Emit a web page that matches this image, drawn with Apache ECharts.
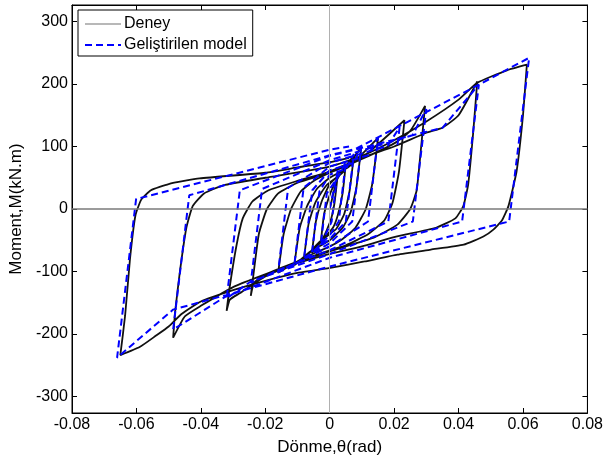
<!DOCTYPE html>
<html><head><meta charset="utf-8">
<script src="https://cdn.jsdelivr.net/npm/echarts@6/dist/echarts.min.js"></script>
<style>html,body{margin:0;padding:0;background:#fff}#c{width:606px;height:461px}</style>
</head><body><div id="c"></div>
<script>
// ---- axis ticks ----
const xTicks = [-0.08, -0.06, -0.04, -0.02, 0, 0.02, 0.04, 0.06, 0.08];
const yTicks = [-300, -200, -100, 0, 100, 200, 300];
const legendNames = ['Deney', 'Geliştirilen model'];

// ---- Geliştirilen model (blue dashed), [theta(rad), M(kN.m)] per cycle ----
const modelA = [[0,0],[0.0025,62],[0.0006,-20],[-0.0028,-58],[-0.0009,25]];
const modelB = [[0.003,55],[0.005,75],[0.0028,-20],[0,-42],[-0.0055,-70],[-0.0032,28]];
const modelC = [[0,55],[0.005,64],[0.0075,88],[0.005,-20],[0,-48],[-0.008,-80],[-0.0054,30]];
const modelD = [[0,62],[0.0075,74],[0.0098,99],[0.007,-20],[0,-55],[-0.008,-78],[-0.011,-90],[-0.0081,34]];
const modelE = [[0,68],[0.012,86],[0.015,114],[0.0119,-20],[0,-60],[-0.011,-88],[-0.016,-100],[-0.0129,34]];
const modelF = [[0,74],[0.018,101],[0.0217,131],[0.0182,-20],[0,-66],[-0.016,-98],[-0.0245,-118],[-0.021,32]];
const modelG = [[0,78],[0.0257,118],[0.030,160],[0.0258,-20],[0,-72],[-0.0245,-116],[-0.032,-143],[-0.0279,30]];
const modelH = [[0,85],[0.035,130],[0.0463,199],[0.0411,-20],[0,-78],[-0.0326,-141],[-0.0486,-193],[-0.0436,22]];
const modelI = [[0,86],[0.008,96],[0.0463,199],[0.0619,242],[0.0557,-20],[0,-92],[-0.0486,-161],[-0.066,-238],[-0.0601,16],[0,95],[0.006,100]];

// ---- Deney (experiment, black) ----
const expA = [[0,0],[0.0025,55],[0.0015,10],[0.0005,-15],[-0.001,-35],[-0.0028,-55],[-0.0018,-10],[-0.0005,15],[0.001,35]];
const expB = [[0.005,72],[0.004,25],[0.0025,-10],[0.001,-30],[-0.002,-48],[-0.0055,-70],[-0.0043,-20],[-0.0025,12],[0,40],[0.003,55]];
const expC = [[0.0075,86],[0.0062,30],[0.0045,-8],[0.002,-32],[-0.003,-52],[-0.008,-80],[-0.0066,-25],[-0.0045,10],[-0.001,38],[0.004,58]];
const expD = [[0.0098,99],[0.0083,35],[0.0065,-5],[0.004,-30],[0,-50],[-0.006,-68],[-0.011,-90],[-0.0093,-30],[-0.007,5],[-0.004,32],[0,50],[0.006,68]];
const expE = [[0.015,114],[0.0132,40],[0.0112,0],[0.008,-30],[0.004,-48],[0,-60],[-0.008,-78],[-0.016,-102],[-0.0143,-40],[-0.012,0],[-0.009,28],[-0.005,45],[0,58],[0.01,82]];
const expF = [[0.0232,142],[0.0215,60],[0.0195,10],[0.017,-18],[0.012,-40],[0.005,-58],[0,-66],[-0.01,-84],[-0.02,-105],[-0.0235,-118],[-0.0245,-139],[-0.0238,-110],[-0.022,-40],[-0.0195,0],[-0.016,25],[-0.01,42],[0,58],[0.01,80],[0.02,105]];
const expG = [[0.025,125],[0.0296,165],[0.0282,90],[0.027,30],[0.025,0],[0.021,-25],[0.014,-45],[0.005,-60],[0,-68],[-0.01,-85],[-0.02,-108],[-0.028,-135],[-0.031,-145],[-0.032,-163],[-0.0312,-130],[-0.029,-60],[-0.027,-15],[-0.024,12],[-0.019,30],[-0.01,45],[0,60],[0.01,82],[0.02,100],[0.03,122]];
const expH = [[0.035,130],[0.04,150],[0.0458,204],[0.0445,120],[0.043,40],[0.0415,5],[0.039,-15],[0.033,-30],[0.02,-45],[0.01,-60],[0,-72],[-0.015,-95],[-0.03,-125],[-0.04,-155],[-0.045,-172],[-0.0486,-206],[-0.048,-165],[-0.0465,-100],[-0.0445,-30],[-0.0425,5],[-0.039,25],[-0.033,38],[-0.02,50],[0,68],[0.01,85]];
const expI = [[0.02,110],[0.03,140],[0.04,175],[0.0458,202],[0.055,222],[0.0612,231],[0.060,150],[0.058,60],[0.0555,5],[0.0535,-18],[0.0508,-33],[0.0477,-44],[0.0416,-57],[0.0314,-65],[0.021,-73],[0.0108,-84],[0.0006,-94],[-0.0096,-102],[-0.02,-115],[-0.03,-130],[-0.04,-148],[-0.046,-168],[-0.05,-188],[-0.054,-203],[-0.059,-221],[-0.065,-234],[-0.0635,-170],[-0.062,-80],[-0.0603,-10],[-0.0585,15],[-0.0555,30],[-0.05,40],[-0.0404,49],[-0.02,58],[-0.0096,67],[0,75],[0.006,82]];

const modelData = [].concat(modelA, modelB, modelC, modelD, modelE, modelF, modelG, modelH, modelI);
const expData = [].concat(expA, expB, expC, expD, expE, expF, expG, expH, expI);

const FONT = 'Liberation Sans, Arial, Helvetica, sans-serif';
const chart = echarts.init(document.getElementById('c'), null, {renderer: 'canvas'});
const fmtX = v => String(Math.round(v * 100) / 100);

const xBase = {
  type: 'value', min: -0.08, max: 0.08, interval: 0.02,
  splitLine: {show: false},
  axisLine: {show: true, onZero: false, lineStyle: {color: '#000', width: 1}},
  axisTick: {show: true, inside: true, length: 5, lineStyle: {color: '#000'}}
};
const yBase = {
  type: 'value', min: -326.5, max: 326.5,
  splitLine: {show: false},
  axisLine: {show: true, onZero: false, lineStyle: {color: '#000', width: 1}},
  axisTick: {show: true, inside: true, length: 5, customValues: yTicks, lineStyle: {color: '#000'}}
};

chart.setOption({
  animation: false,
  backgroundColor: '#fff',
  textStyle: {fontFamily: FONT},
  grid: {left: 72, right: 13, top: 5, bottom: 47, show: true, borderColor: '#000', borderWidth: 1},
  legend: {
    left: 78, top: 10, orient: 'vertical',
    data: [
      {name: legendNames[0], lineStyle: {color: '#a0a0a0', width: 1.5, type: 'solid'}, itemStyle: {color: '#a0a0a0', opacity: 0, borderWidth: 0}},
      {name: legendNames[1], lineStyle: {color: '#0000ff', width: 2, type: [7, 4]}, itemStyle: {color: '#0000ff', opacity: 0, borderWidth: 0}}
    ],
    itemWidth: 36, itemHeight: 14, itemGap: 5,
    padding: [6, 6, 3, 6],
    borderColor: '#000', borderWidth: 1, backgroundColor: '#fff',
    textStyle: {fontFamily: FONT, fontSize: 16, color: '#000', padding: [0, 0, 0, -2]}
  },
  xAxis: [
    Object.assign({}, xBase, {
      position: 'bottom',
      name: 'Dönme,θ(rad)', nameLocation: 'middle', nameGap: 26,
      nameTextStyle: {fontFamily: FONT, fontSize: 17, color: '#000'},
      axisLabel: {show: true, fontFamily: FONT, fontSize: 16, color: '#000', margin: 4, formatter: fmtX}
    }),
    Object.assign({}, xBase, {position: 'top', axisLabel: {show: false}})
  ],
  yAxis: [
    Object.assign({}, yBase, {
      position: 'left',
      name: 'Moment,M(kN.m)', nameLocation: 'middle', nameGap: 44,
      nameTextStyle: {fontFamily: FONT, fontSize: 17, color: '#000'},
      axisLabel: {show: true, fontFamily: FONT, fontSize: 16, color: '#000', margin: 4, customValues: yTicks}
    }),
    Object.assign({}, yBase, {position: 'right', axisLabel: {show: false}})
  ],
  series: [
    {
      name: 'zero', type: 'line', data: [], z: 1, silent: true,
      markLine: {
        silent: true, symbol: 'none', animation: false,
        label: {show: false},
        data: [
          {yAxis: 0, lineStyle: {color: '#7a7a7a', width: 1.5, type: 'solid'}},
          {xAxis: 0, lineStyle: {color: '#b0b0b0', width: 1, type: 'solid'}}
        ]
      }
    },
    {
      name: legendNames[0], type: 'line', data: expData, z: 2,
      symbol: 'none', smooth: 0.15, silent: true,
      lineStyle: {color: '#111', width: 1.8},
      itemStyle: {color: '#a0a0a0'}
    },
    {
      name: legendNames[1], type: 'line', data: modelData, z: 3,
      symbol: 'none', silent: true,
      lineStyle: {color: '#0000ff', width: 2, type: [7, 4]},
      itemStyle: {color: '#0000ff'}
    }
  ]
});
</script></body></html>
